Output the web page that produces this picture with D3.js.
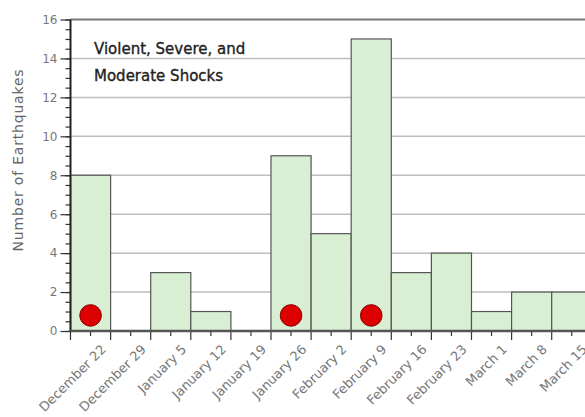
<!doctype html>
<html>
<head>
  <meta charset="utf-8">
  <title>Earthquakes per week</title>
  <script src="https://cdn.jsdelivr.net/npm/d3@7"></script>
  <style>
    body { margin: 0; background: #fff; }
    svg { display: block; }
  </style>
</head>
<body>
  <div id="chart"></div>

  <script type="text/javascript">
    var width = 585;
    var height = 417;

    var weeks = [
      'December 22', 'December 29', 'January 5', 'January 12', 'January 19',
      'January 26', 'February 2', 'February 9', 'February 16', 'February 23',
      'March 1', 'March 8', 'March 15'
    ];
    var counts = [8, 0, 3, 1, 0, 9, 5, 15, 3, 4, 1, 2, 2];
    var markedWeeks = ['December 22', 'January 26', 'February 9'];
    var markLevel = 0.8;
    var yTicks = [0, 2, 4, 6, 8, 10, 12, 14, 16];
    var titleLines = ['Violent, Severe, and', 'Moderate Shocks'];

    var plotLeft = 70.5, plotTop = 19.5, plotBottom = 331;

    var svg = d3.select('#chart')
      .append('svg')
      .attr('width', width)
      .attr('height', height);

    var x = d3.scaleBand()
      .domain(weeks)
      .range([plotLeft, plotLeft + weeks.length * 40.1])
      .padding(0);

    var y = d3.scaleLinear()
      .domain([0, 16])
      .range([plotBottom, plotTop]);

    var bars = weeks.map(function(w, i) { return { week: w, count: counts[i] }; });

    // grid lines
    svg.append('g')
      .selectAll('line')
      .data(yTicks.slice(1, -1))
      .enter()
      .append('line')
      .attr('x1', plotLeft)
      .attr('x2', width)
      .attr('y1', function(d) { return y(d); })
      .attr('y2', function(d) { return y(d); })
      .attr('stroke', '#bdbdbd')
      .attr('stroke-width', 1.5);

    // top frame
    svg.append('line')
      .attr('x1', plotLeft).attr('x2', width)
      .attr('y1', y(16)).attr('y2', y(16))
      .attr('stroke', '#777')
      .attr('stroke-width', 2);

    // bars
    svg.append('g')
      .selectAll('rect')
      .data(bars.filter(function(d) { return d.count > 0; }))
      .enter()
      .append('rect')
      .attr('x', function(d) { return x(d.week); })
      .attr('y', function(d) { return y(d.count); })
      .attr('width', x.bandwidth())
      .attr('height', function(d) { return y(0) - y(d.count); })
      .attr('fill', '#d9efd3')
      .attr('stroke', '#555')
      .attr('stroke-width', 1.2);

    // red markers
    svg.append('g')
      .selectAll('circle')
      .data(markedWeeks)
      .enter()
      .append('circle')
      .attr('cx', function(d) { return x(d) + x.bandwidth() / 2; })
      .attr('cy', y(markLevel))
      .attr('r', 10.8)
      .attr('fill', '#dd0000')
      .attr('stroke', '#8a0000')
      .attr('stroke-width', 1);

    // y axis, minor then major ticks
    var yMinor = d3.axisLeft(y)
      .tickValues(d3.range(0, 16.01, 0.5))
      .tickSize(5)
      .tickFormat('');
    var yg = svg.append('g')
      .attr('transform', 'translate(' + plotLeft + ',0)')
      .call(yMinor);
    yg.select('.domain').remove();
    yg.selectAll('.tick line').attr('stroke', '#333').attr('stroke-width', 1.2);

    var yMajor = d3.axisLeft(y)
      .tickValues(yTicks)
      .tickSize(10)
      .tickPadding(3);
    var ymg = svg.append('g')
      .attr('transform', 'translate(' + plotLeft + ',0)')
      .call(yMajor);
    ymg.select('.domain').remove();
    ymg.selectAll('.tick line').attr('stroke', '#333').attr('stroke-width', 1.2);
    ymg.selectAll('.tick text')
      .attr('font-family', 'DejaVu Sans')
      .attr('font-size', '12px')
      .attr('fill', '#777');

    // x axis ticks
    var xg = svg.append('g');
    xg.selectAll('line.major')
      .data(weeks.concat(['end']))
      .enter()
      .append('line')
      .attr('class', 'major')
      .attr('x1', function(d, i) { return plotLeft + i * x.step(); })
      .attr('x2', function(d, i) { return plotLeft + i * x.step(); })
      .attr('y1', plotBottom)
      .attr('y2', plotBottom + 9)
      .attr('stroke', '#333')
      .attr('stroke-width', 1.2);
    xg.selectAll('line.minor')
      .data(weeks)
      .enter()
      .append('line')
      .attr('class', 'minor')
      .attr('x1', function(d) { return x(d) + x.bandwidth() / 2; })
      .attr('x2', function(d) { return x(d) + x.bandwidth() / 2; })
      .attr('y1', plotBottom)
      .attr('y2', plotBottom + 5)
      .attr('stroke', '#333')
      .attr('stroke-width', 1.2);

    xg.selectAll('text')
      .data(weeks)
      .enter()
      .append('text')
      .text(function(d) { return d; })
      .attr('transform', function(d) {
        return 'translate(' + (x(d) + x.bandwidth() / 2 + 13) + ',' + (plotBottom + 16) + ') rotate(-45)';
      })
      .attr('text-anchor', 'end')
      .attr('dy', '0.35em')
      .attr('font-family', 'DejaVu Sans')
      .attr('font-size', '13px')
      .attr('fill', '#777');

    // axis lines
    svg.append('line')
      .attr('x1', plotLeft).attr('x2', plotLeft)
      .attr('y1', plotTop).attr('y2', plotBottom + 1)
      .attr('stroke', '#222')
      .attr('stroke-width', 2);
    svg.append('line')
      .attr('x1', plotLeft).attr('x2', width)
      .attr('y1', plotBottom).attr('y2', plotBottom)
      .attr('stroke', '#555')
      .attr('stroke-width', 2.5);

    // y label
    svg.append('text')
      .text('Number of Earthquakes')
      .attr('transform', 'translate(23,160) rotate(-90)')
      .attr('text-anchor', 'middle')
      .attr('font-family', 'DejaVu Sans')
      .attr('font-size', '14px')
      .attr('letter-spacing', '0.8px')
      .attr('fill', '#666');

    // title
    svg.append('g')
      .selectAll('text')
      .data(titleLines)
      .enter()
      .append('text')
      .text(function(d) { return d; })
      .attr('x', 94)
      .attr('y', function(d, i) { return 54 + i * 27; })
      .attr('font-family', 'DejaVu Sans')
      .attr('font-size', '15px')
      .attr('fill', '#222')
      .attr('stroke', '#222')
      .attr('stroke-width', 0.35);
  </script>
</body>
</html>
